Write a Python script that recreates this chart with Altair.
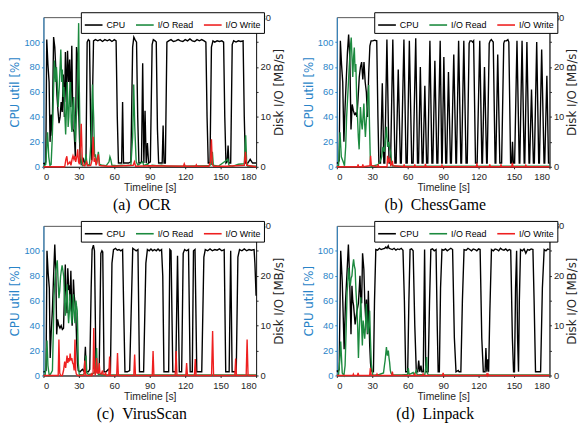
import altair as alt
import pandas as pd

SERIES = ["CPU", "I/O Read", "I/O Write"]
SERIES_COLORS = ["#000000", "#1c8a3f", "#ee2020"]
CAPTIONS = ["(a)\u00a0\u00a0OCR", "(b)\u00a0\u00a0ChessGame", "(c)\u00a0\u00a0VirusScan", "(d)\u00a0\u00a0Linpack"]
TIME_TICKS = [0, 30, 60, 90, 120, 150, 180]
CPU_TICKS = [0, 20, 40, 60, 80, 100]
IO_TICKS = [0, 5, 10, 15, 20, 25, 30]

# ---------------- (a) OCR ----------------
OCR_CPU = [(0,3),(1,2),(2,4),(2.8,102),(3.8,82),(4.8,68),(5.6,20),(6.5,42),(7.4,25),(8.6,104),(9.6,96),(10.5,78),(11.4,58),(12.3,45),(13.2,35),(14.1,40),(15,52),(15.9,44),(16.8,74),(17.7,40),(18.6,92),(19.5,52),(20.4,93),(21.3,68),(22.2,86),(23.1,48),(24,97),(25,30),(26,28),(27,8),(28,96),(29,88),(30,40),(31,8),(32,2),(33,3),(34,6),(35,3),(36,4),(37,100),(38,102),(39,101),(40,30),(40.8,5),(41.6,60),(42.4,101),(44,102),(46,101),(48,102),(50,100.5),(52,102),(54,101),(56,102),(58,100.5),(60,102),(61.5,101),(62.5,40),(63.5,3),(65,3),(66.2,3),(67,52),(67.8,3),(70,3),(72,3),(74,4),(75.5,96),(76.5,104),(77.5,102),(78.8,100),(79.8,40),(80.8,3),(82,3),(83,4),(84,83),(85,3),(86,45),(87,3),(88,19),(89,3),(90.5,4),(92,98),(93,102),(94.5,101),(95.5,100),(96.5,30),(97.5,3),(99,3),(100.5,3),(101.3,33),(102.1,3),(103.2,3),(104.5,100),(106,101),(108,102),(110,100.5),(112,101),(114,102),(116,101),(118,100.5),(120,102),(122,101),(124,102.5),(126,101),(128,100.5),(130,102),(132,101),(134,102),(136,101),(137.5,100),(138.5,40),(139.5,3),(141,3),(142.2,96),(143.5,101),(145,100),(147,101),(149,100.5),(151,101),(152.5,100),(153.5,40),(154.5,3),(155.5,4),(156.3,17),(157,3),(158.5,3),(159.8,98),(161,101),(163,100),(165,101),(167,100.5),(169,101),(170,40),(171,3),(173,3),(175,6),(177,3),(180,3)]
OCR_READ = [(0,0),(2,0.5),(3.5,6.9),(4.5,2),(5.5,0.3),(6.5,0.5),(7.5,6),(8.5,15),(9.3,21.3),(10.2,17),(11,20),(11.5,18),(12.4,12),(13.4,16),(14.7,23.5),(15.5,17),(16,19.5),(16.8,14),(17.4,16),(18.2,10),(18.8,6.5),(19.5,12),(20.2,17),(20.9,8),(21.5,10),(22.2,15),(22.9,17),(23.5,9),(24.1,7),(24.8,12),(25.6,14),(26.3,9),(27,5),(27.8,10),(28.5,12),(29.2,20),(29.8,28.8),(30.4,15),(31,5),(32,1),(33,0.2),(35,0.3),(36,2.5),(37,0.3),(39,0.5),(40.5,6),(41.5,16.5),(42.5,10),(43.3,2),(44,2.5),(45,0.5),(46.5,3),(47.5,0.5),(50,0.3),(53,0.2),(55.5,1),(56.3,2),(57,1.5),(58,0.3),(62,0.2),(66,0.3),(70,0.2),(74,0.3),(75.5,6),(76.4,16.5),(77.3,8),(78.5,1),(80,0.3),(84,1),(85,0.2),(88,0.6),(89,0.1),(92,0.3),(96,0.2),(100,0.3),(104,0.1),(120,0.1),(140,0.2),(142.3,0.5),(143,3),(143.8,0.3),(148,0.1),(155,1.3),(156,1.5),(157,0.3),(160,0.1),(165,0.5),(170,0.6),(171.2,6.3),(172,1),(173,0.1),(180,0.1)]
OCR_WRITE = [(0,0),(18,0),(19,1.5),(19.8,2.1),(20.6,0.5),(21.5,0.7),(22.4,1),(23.3,0.3),(24.2,1.5),(25,2.2),(25.8,1.5),(26.6,2.2),(27.3,1),(28.2,2),(29,3.5),(29.7,1),(30.5,0.5),(31.3,4),(32,8.6),(32.8,2),(33.6,0.3),(35,0.2),(36.5,1),(37.5,0.2),(40,0.3),(41.3,1.5),(42.1,6),(42.9,1),(43.8,1.5),(44.6,0.3),(46.5,2.5),(47.3,0.3),(49,0.2),(55,0.1),(60,0.1),(76,0.3),(77,1),(78,0.1),(90,0.2),(118.5,0.1),(119.2,0.6),(120,0.1),(128.8,0.1),(129.4,0.4),(130,0.1),(140,0.1),(141.4,1),(142.2,5.5),(143,0.5),(144,0.1),(155,0.1),(170,0.3),(171,3),(172,0.3),(180,0)]

# ---------------- (b) ChessGame ----------------
CHESS_CPU = [(0,3),(1,3),(2,5),(3,101),(4,82),(5,68),(6,20),(7,48),(8,70),(9,92),(10,106),(11,88),(12,30),(13,50),(14,45),(15,42),(16,43),(17,40),(18,55),(19,72),(20,80),(21,84),(22,70),(23,84),(24,68),(25,60),(26,40),(27,75),(28,97),(29,101),(30.5,101),(32,101.5),(33.8,101),(34.8,40),(35.6,3),(37,3),(38.5,67),(39.8,3),(40.6,3),(42.4,102),(44.2,3),(45.5,3),(47.4,102),(49.2,3),(50.2,3),(52,78),(53.8,3),(54.6,3),(56.8,102),(58.6,3),(59.6,3),(61.4,101),(63.4,3),(64.6,3),(66.8,103),(68.3,3),(69.2,3),(70.7,80),(72.2,3),(73,3),(74.5,65),(76,3),(77,3),(78.8,101),(80.5,3),(81.3,3),(83,85),(84.7,3),(85.5,3),(87.5,101),(88.8,3),(89.2,3),(90.6,88),(92.2,3),(93,3),(94.5,76),(96.2,3),(97,3),(99,90),(100.8,3),(101.3,3),(103.1,101),(105,3),(105.6,3),(107.5,101),(109.4,3),(110.4,3),(112,99),(112.8,101),(114,101),(115,100),(115.8,101),(117.4,3),(118.8,3),(121,101),(122.8,3),(123.3,3),(125,80),(126.8,3),(127.3,3),(129,99),(129.8,101),(130.8,102),(131.6,101),(132.4,100),(134,3),(134.6,3),(136.2,90),(138,3),(139.5,3),(141.3,99),(142,101),(143.5,101),(144.8,102),(145.6,100),(147.1,3),(148,3),(148.7,20),(149.4,3),(150.5,3),(152.5,101),(154.4,3),(154.9,3),(156.8,101),(158.6,3),(159.1,3),(160.9,100),(162.7,3),(163.2,3),(164.8,62),(166.4,3),(167.2,3),(169.2,100),(170.9,3),(171.5,3),(173.4,94),(175.4,3),(176,3),(177.8,73),(179.2,3),(180,3)]
CHESS_READ = [(0,0),(1.5,0.3),(2.7,6.9),(3.8,2),(5.4,1),(6.5,0.2),(7.5,4),(8.3,10),(9.5,15.4),(10.5,20),(11.5,24),(12.2,25.9),(13,21),(13.5,18),(14.2,22),(14.8,23.9),(15.5,19),(16.1,20.6),(16.8,14),(17.5,10),(18.2,6),(18.9,3.5),(19.5,8),(20,12),(20.8,9),(21.5,7.5),(22.2,10),(22.9,12.7),(23.5,9),(24.2,6),(24.9,9),(25.6,11.4),(26.3,14),(27,16.4),(27.7,8),(28.4,1),(29,0),(31,0.2),(33,0.3),(35,0.5),(36.5,1),(38,2),(39,4),(40.2,3),(41.3,6),(42,8),(43,4),(44,5),(44.8,3.5),(45.5,3),(46.3,1),(47,0.2),(50,0.1),(60,0.1),(90,0.1),(180,0.1)]
CHESS_WRITE = [(0,0),(17.5,0),(18,0.5),(18.5,0),(21.5,0),(22,0.5),(22.5,0),(28,0.2),(28.6,2.2),(29.2,0.3),(30,0.2),(34.5,0),(35,0.5),(35.5,0),(42.5,0),(43,2.2),(43.6,0.8),(44.2,1.2),(45,1.8),(45.6,0.3),(46.5,0.5),(47,1.2),(47.6,0.2),(56.5,0),(57,0.5),(57.5,0),(65.5,0),(66,0.5),(66.5,0),(74.5,0),(75,0.6),(75.5,0),(88.5,0),(89,0.3),(89.5,0),(118,0),(118.6,0.5),(119.2,0),(129,0),(129.5,0.5),(130,0),(138.5,0),(139,0.5),(139.5,0),(148,0),(148.6,0.8),(149.2,0),(159.5,0),(160,0.3),(160.5,0),(180,0)]

# ---------------- (c) VirusScan ----------------
VIRUS_CPU = [(0,3),(1,3),(2.2,4),(3,100),(4,82),(5,70),(5.7,14),(6.6,35),(7.6,53),(8.6,80),(9.6,105),(10.5,82),(11.2,33),(12,45),(13,40),(14,38),(15,40),(16,37),(17,38),(17.8,65),(18.5,89),(19.3,60),(20,50),(20.6,86),(21.4,70),(22,71),(22.6,60),(23.2,84),(23.8,60),(24.3,40),(25,60),(25.4,77),(26,65),(26.7,58),(27.4,50),(28.1,27),(28.8,10),(29.5,4),(31,3),(33,5),(34.5,3),(35.5,23),(36.3,3),(38,3),(39.2,5),(40.4,70),(41.2,101),(42.3,104.5),(43.2,100),(44.5,3),(46,3),(47.2,5),(48.6,98),(49.5,100),(50.2,99),(51.3,3),(53,3),(55,5),(56.7,3),(58,90),(59.3,101),(61,102),(62.5,100.5),(64,101),(65.5,100),(67,101),(67.8,60),(69,3),(71,3),(73,4),(74.5,60),(75.6,102),(77,101),(78.5,100),(80,101),(81.3,3),(83,3),(84.8,3),(86.7,90),(88,101),(89.5,100),(91,101.5),(92.5,100),(94,101),(95.5,100),(97,101.5),(98.5,100),(100,101),(101,80),(102,3),(104,3),(106,3),(107,101),(108,100),(109.5,3),(111,3),(112,3),(113.5,96),(115,3),(117,3),(118.3,98),(119.5,101),(121,100),(122.8,101),(124.2,3),(126,3),(127,100),(128.3,101),(129.8,3),(132,3),(134,3),(135.8,95),(137,101),(139,100),(141,101.5),(143,100),(145,101),(147,100.5),(149,101.5),(151,100),(153,101),(154.3,3),(156,3),(157.2,3),(158.5,100),(159.7,3),(161.5,3),(163.2,3),(164.6,95),(166,101),(168,100),(170,101.5),(172,100),(174,101),(176,100.5),(178.3,101),(179,90),(180,64)]
VIRUS_READ = [(0,0),(1.5,0.2),(2.3,3),(3,7),(3.8,2),(4.9,0),(6,0.3),(7.6,1),(8.3,8),(9,16),(9.7,19),(10.4,21),(11,22),(11.7,23.1),(12.4,19),(13.1,15.5),(13.8,17),(14.5,19.8),(15.1,21),(15.8,22.1),(16.5,21),(17.2,19.8),(17.9,15),(18.6,12),(19.3,15),(20,18.3),(20.7,13),(21.3,10.5),(22,13),(22.6,16.3),(23.3,13),(24,10.5),(24.7,13),(25.4,16.3),(26.1,12),(26.7,10.5),(27.2,13),(27.5,15),(28,14),(28.6,13),(29.1,8),(29.5,2.5),(30.3,0.2),(33,0.1),(35.3,0.5),(36,4),(36.7,0.5),(38,0.2),(41,0.3),(43,0.5),(44.5,3),(45,5.5),(45.6,1),(46.5,0.2),(48,0.3),(50,0.1),(60,0.1),(90,0.1),(180,0.1)]
VIRUS_WRITE = [(0,0),(12.5,0),(13.1,7.2),(13.8,0.5),(14.5,0),(16,0),(17,1),(18,2.8),(18.8,1.5),(19.5,3),(20,4),(20.6,2.5),(21.3,3.5),(22,2.8),(22.6,4.4),(23.3,3),(24,3.5),(24.7,2.5),(25.4,2.2),(26,1),(26.7,7.2),(27.3,1),(27.8,0.3),(29,0),(34.3,0),(35,3),(35.6,0.3),(36.5,0),(40,0),(40.5,0.3),(41,0),(42,0.5),(42.6,9.5),(43.2,1.5),(43.8,0),(44.5,1),(45,3.5),(45.6,0.5),(46.5,0.5),(47.2,2.5),(47.8,0.5),(49,0.3),(50,1),(50.6,0.2),(52,0.2),(52.6,0.5),(53.2,0),(55.3,0),(56,3.8),(56.6,0),(62,0),(62.7,4.5),(63.4,0),(76.5,0),(77.2,4.2),(77.9,0),(92.1,0),(92.8,4.9),(93.5,0),(111.5,0),(112.3,4.9),(113,0),(120.5,0),(121.2,2.5),(121.9,0),(127.8,0),(128.5,3.3),(129.2,0),(142.3,0),(143.2,8.9),(144,0),(162,0),(162.7,3.4),(163.4,0),(171.6,0),(172.4,7.2),(173.2,0),(180,0)]

# ---------------- (d) Linpack ----------------
LINPACK_CPU = [(0,4),(1,3),(2,5),(3.3,100),(4.6,75),(5.5,45),(6.2,21),(7.3,58),(8.7,84),(9.8,105),(10.9,77),(12,33),(12.8,72),(13.5,60),(14.2,56),(15.5,41),(16.9,51),(18.3,58),(19.6,80),(20.3,60),(21,58),(21.8,98),(22.9,85),(23.7,58),(24.5,45),(25.1,61),(25.9,33),(26.7,68),(27.8,25),(28.5,10),(29.2,4),(30,3),(31,3),(31.9,60),(33,101),(34.5,100.5),(36,102),(37.5,101),(39,101.5),(40.5,102),(41.5,103),(42.5,102),(43.5,104),(44.2,102),(45.5,101.5),(47,101),(48.5,102),(50,100.5),(51.5,101.5),(53,101),(54.5,102),(56,100.5),(57.2,60),(58.3,3),(60,3),(61,60),(62,101),(63.3,101.5),(64.6,100),(66,40),(67.3,3),(68.5,3),(69.3,12),(70.2,3),(71.2,8),(72,3),(73.2,3),(74.3,101),(75.3,3),(76.3,3),(77.3,3),(78.5,60),(79.6,101),(81,101.5),(82.5,100),(84,101),(85,40),(85.8,3),(86.8,3),(87.8,70),(89,101),(90.5,100.5),(92,101.5),(93.5,100),(95,101),(96.5,102),(98,101),(99.5,30),(100.9,3),(102.8,4),(103.5,3),(105,3),(106.3,60),(107.7,101),(109.5,100.5),(111,102),(112.5,101),(114,100),(115.5,101.5),(117,101),(118.5,100),(120,101.5),(121.3,101),(122.7,30),(124,3),(125.5,3),(126.2,22),(127,3),(127.8,13),(128.5,3),(129.5,50),(130.9,101),(132.5,100),(134,101.5),(135.5,101),(137,100),(138.5,102),(140,101),(141.5,100.5),(143,101.5),(144.5,100),(146,101),(147.2,100.5),(148.6,30),(149.6,3),(150.4,3),(151.3,70),(152.2,100),(153,30),(153.8,3),(154.5,60),(155.5,101),(157,100),(158.5,101.5),(160,98),(161.5,101),(163,100.5),(164.5,101.5),(166,101),(167,60),(168.2,3),(169.5,3),(171,3),(172.5,3),(174,70),(175.5,101),(177,100),(178.5,101.5),(180,101)]
LINPACK_READ = [(0,0),(1.5,0.2),(2.5,3),(3.3,6.8),(4.6,0.5),(6,0),(7,2),(8,10),(8.7,16.7),(9.4,19),(10.1,21.6),(10.8,19),(11.4,18),(12.1,19.5),(12.8,20),(13.5,22),(14.2,23.3),(14.8,22),(15.5,21.3),(16.2,17),(16.9,14),(17.6,10),(18.3,3.5),(19,9),(19.6,12),(20.3,15.7),(21,10),(21.6,6),(22.3,11),(23,9),(23.6,7.4),(24.3,10),(25,14.4),(25.6,11),(26.3,8.4),(27,10),(27.8,13),(28.5,7),(29.2,2.3),(30.5,0),(33,0.1),(36,0.2),(39.5,0.5),(40.3,2),(40.9,3),(41.5,4.5),(42,5.7),(42.5,4.5),(42.8,4),(43.3,4.5),(43.6,5),(44.2,3.5),(44.7,2.6),(45.3,1),(45.8,0.5),(47,0.1),(55,0.1),(59.8,0.2),(60.5,1.5),(61.2,0.2),(64.6,0.6),(65.5,0.1),(67.3,1),(68,0.1),(74.5,0.2),(75.5,2),(76,3.7),(76.6,0.5),(77.5,0.1),(90,0.1),(180,0.1)]
LINPACK_WRITE = [(0,0),(13.5,0),(14,0.3),(14.5,0),(17.5,0),(18,0.5),(18.5,0),(27.8,0),(28.4,1.5),(29,0.2),(29.6,0),(33.5,0),(34,0.3),(34.5,0),(46.5,0),(47,0.8),(47.6,0),(65.5,0),(66,0.3),(66.5,0),(72.5,0),(73,0.3),(73.5,0),(89.5,0),(90,0.5),(90.5,0),(126.5,0),(127,0.3),(127.5,0),(128,0.3),(128.5,0),(180,0)]

SANS = "Liberation Sans, Arial, sans-serif"
BLUE = "#2a84c8"
DARK = "#262626"
PANEL_W = 216
PANEL_H = 152
LEGEND_W = 178


def frame(points, name):
    return pd.DataFrame(points, columns=["t", "v"]).assign(series=name)


def panel(cpu, read, write, caption):
    color = alt.Color(
        "series:N",
        scale=alt.Scale(domain=SERIES, range=SERIES_COLORS),
        legend=alt.Legend(
            title=None, orient="none", legendX=PANEL_W - LEGEND_W, legendY=-5,
            direction="horizontal", columns=3,
            symbolType="stroke", symbolSize=324, symbolStrokeWidth=1.6,
            labelFont=SANS, labelFontSize=9, labelColor="#000",
            labelOffset=3, columnPadding=6, padding=3,
            strokeColor="#000", fillColor="#fff", cornerRadius=0,
        ),
    )
    x = alt.X(
        "t:Q",
        scale=alt.Scale(domain=[0, 180], nice=False, zero=False),
        axis=alt.Axis(
            values=TIME_TICKS, title="Timeline [s]", grid=False,
            labelFont=SANS, labelFontSize=9.5, labelColor=DARK,
            titleFont=SANS, titleFontSize=10.5, titleFontWeight="normal",
            titleColor=DARK, titlePadding=2, labelPadding=3, tickSize=2,
            domainColor=DARK, tickColor=DARK,
        ),
    )
    left = alt.Chart(frame(cpu, "CPU")).mark_line(strokeWidth=1.4).encode(
        x=x,
        y=alt.Y(
            "v:Q",
            scale=alt.Scale(domain=[0, 120], nice=False),
            axis=alt.Axis(
                orient="left", values=CPU_TICKS, title="CPU util [%]", grid=False,
                labelFont=SANS, labelFontSize=9.5, labelColor=BLUE,
                titleFont="DejaVu Sans", titleFontSize=12, titleFontWeight="normal",
                titleColor=BLUE, titlePadding=2, labelPadding=2, tickSize=2,
                domainColor=BLUE, tickColor=BLUE,
            ),
        ),
        color=color,
    )
    io = pd.concat([frame(read, "I/O Read"), frame(write, "I/O Write")], ignore_index=True)
    right = alt.Chart(io).mark_line(strokeWidth=1.4).encode(
        x=x,
        y=alt.Y(
            "v:Q",
            scale=alt.Scale(domain=[0, 30], nice=False),
            axis=alt.Axis(
                orient="right", values=IO_TICKS, title="Disk I/O [MB/s]", grid=False,
                labelExpr="datum.value % 10 === 0 ? datum.label : ''",
                labelFont=SANS, labelFontSize=9.5, labelColor=DARK,
                titleFont="DejaVu Sans", titleFontSize=12, titleFontWeight="normal",
                titleColor=DARK, titlePadding=3, labelPadding=2, tickSize=2,
                titleAngle=270, titleBaseline="top", domainColor=DARK, tickColor=DARK,
            ),
        ),
        color=color,
    )
    return (
        alt.layer(left, right)
        .resolve_scale(y="independent")
        .properties(
            width=PANEL_W, height=PANEL_H,
            title=alt.TitleParams(
                caption, orient="bottom", anchor="middle", font="Liberation Serif",
                fontSize=16, fontWeight="normal", color="#000", offset=4, dx=-8,
            ),
        )
    )


pa = panel(OCR_CPU, OCR_READ, OCR_WRITE, CAPTIONS[0])
pb = panel(CHESS_CPU, CHESS_READ, CHESS_WRITE, CAPTIONS[1])
pc = panel(VIRUS_CPU, VIRUS_READ, VIRUS_WRITE, CAPTIONS[2])
pd_ = panel(LINPACK_CPU, LINPACK_READ, LINPACK_WRITE, CAPTIONS[3])

top = alt.hconcat(pa, pb, spacing=16).resolve_legend(color="independent")
bottom = alt.hconcat(pc, pd_, spacing=16).resolve_legend(color="independent")

chart = (
    alt.vconcat(top, bottom, spacing=6)
    .resolve_legend(color="independent")
    .properties(padding={"left": 0, "top": 0, "right": 0, "bottom": 0})
    .configure(padding={"left": 0, "top": 0, "right": 0, "bottom": 0})
    .configure_view(stroke="#555555", strokeWidth=1)
)

chart.save("out.html", embed_options={"renderer": "svg", "actions": False})
